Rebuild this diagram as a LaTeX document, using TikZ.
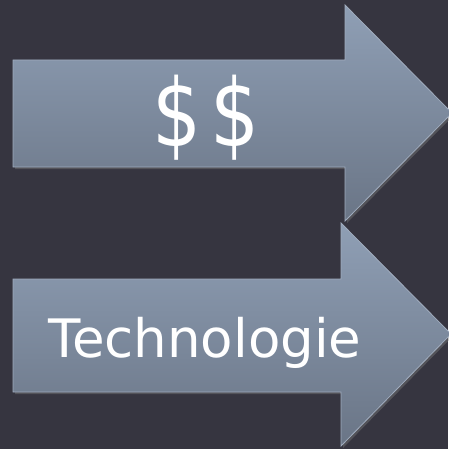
\documentclass[tikz,border=0pt]{standalone}
\usepackage{fontspec}
\setmainfont{DejaVu Sans}
\usetikzlibrary{shadows}
\definecolor{bgdark}{RGB}{54,53,64}
\definecolor{arrowtop}{RGB}{143,159,181}
\definecolor{arrowbot}{RGB}{106,117,134}
\definecolor{arrowrim}{RGB}{160,172,190}

\begin{document}
\begin{tikzpicture}[
    x=1pt, y=-1pt,
    bigarrow/.style={top color=arrowtop, bottom color=arrowbot, draw=arrowrim, line width=0.8pt,
        drop shadow={shadow xshift=2pt, shadow yshift=-2pt, opacity=0.4}},
    arrowtext/.style={text=white, inner sep=0pt},
]
    %background
    \fill[bgdark] (0,0) rectangle (448,449);
    \useasboundingbox (0,0) rectangle (448,449);

    %arrows
    \path[bigarrow] (13,60) -- (345,60) -- (345,5) -- (452,113) -- (345,221) -- (345,167) -- (13,167) -- cycle;
    \path[bigarrow] (13,279) -- (341,279) -- (341,223) -- (451,334) -- (341,446) -- (341,392) -- (13,392) -- cycle;

    %text
    \node[arrowtext, font=\fontsize{94}{98}\selectfont, xscale=0.82] (money) at (206,118) {\$\kern12pt\$};
    \node[arrowtext, font=\fontsize{53}{60}\selectfont, anchor=base] (techno) at (205,357) {Technologie};
\end{tikzpicture}
\end{document}
